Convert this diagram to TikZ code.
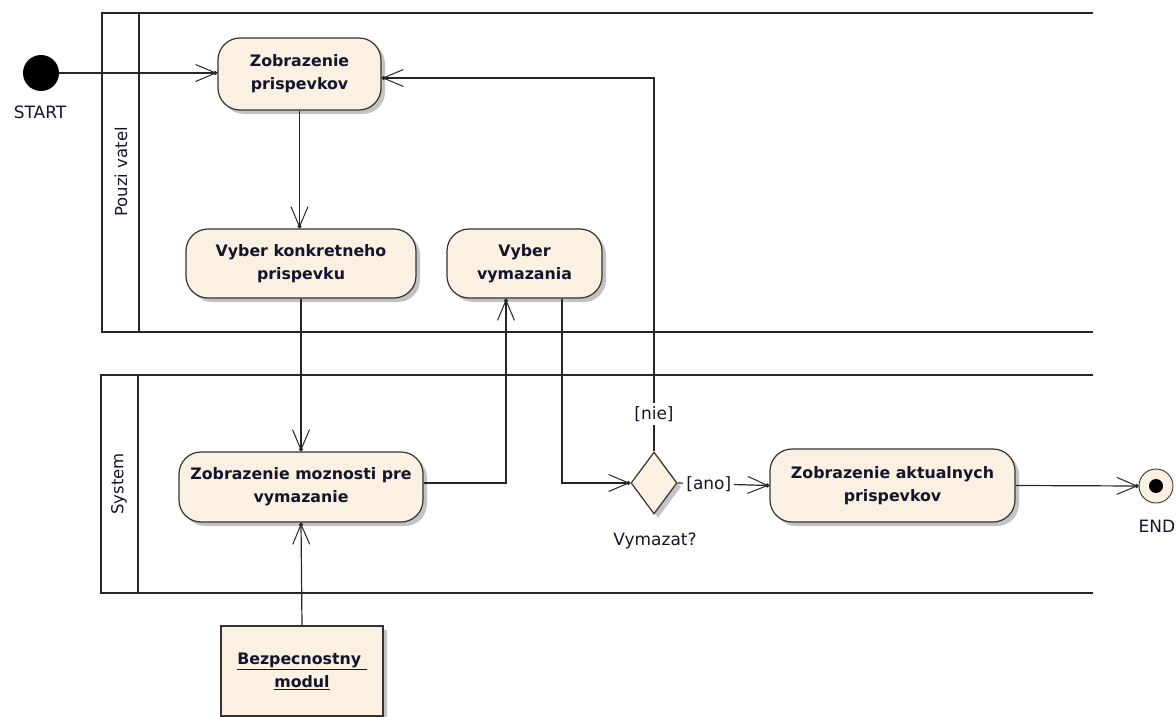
\documentclass[tikz,border=0pt]{standalone}
\usepackage{fontspec}
\setmainfont{DejaVu Sans}
\usetikzlibrary{arrows.meta,shapes.geometric,shadows,calc}
\definecolor{actfill}{RGB}{251,241,226}
\definecolor{ink}{RGB}{20,20,45}
\definecolor{shade}{RGB}{195,195,195}

\begin{document}
\begin{tikzpicture}[x=1pt,y=-1pt,
  lane/.style={line width=1.8pt, draw=black!85},
  lanetitle/.style={rotate=90, font=\fontsize{16.5}{20}\selectfont, text=ink},
  shadowed/.style={drop shadow={shadow xshift=4pt, shadow yshift=-4pt, fill=shade, opacity=1}},
  action/.style={draw=black!80, line width=1.2pt, fill=actfill, rounded corners=22pt,
    align=center, inner sep=0pt, text=ink, shadowed,
    font=\fontsize{15.8}{23}\selectfont\bfseries},
  objbox/.style={draw=black!80, line width=1.2pt, fill=actfill, align=center,
    inner sep=0pt, text=ink, shadowed, font=\fontsize{15.8}{23}\selectfont\bfseries},
  decision/.style={diamond, draw=black!80, line width=1.2pt, fill=actfill,
    inner sep=0pt, shadowed},
  txt/.style={font=\fontsize{17}{20}\selectfont, text=ink},
  guard/.style={txt, fill=white, inner sep=3pt},
  flow/.style={line width=1.2pt, draw=black!85,
    -{Straight Barb[length=20pt,width=17pt,line width=1pt,sep=-3.5pt]Circle[length=4pt]}}
]
\useasboundingbox (0,0) rectangle (1176,717);

% swimlanes
\draw[lane] (1093,13) -- (102,13) -- (102,332) -- (1093,332);
\draw[lane] (139,13) -- (139,332);
\node[lanetitle] (lane1) at (121,172) {Pouzi vatel};
\draw[lane] (1093,375) -- (101,375) -- (101,593) -- (1093,593);
\draw[lane] (138,375) -- (138,593);
\node[lanetitle] (lane2) at (119,484) {System};

% initial and final nodes
\node[circle, fill=black, minimum size=36pt, inner sep=0pt] (start) at (41,73) {};
\node[txt] (startlbl) at (40,112) {START};
\node[circle, draw=black!80, line width=0.9pt, fill=actfill, minimum size=34pt, inner sep=0pt,
  path picture={\fill[black] (path picture bounding box.center) circle (7pt);}] (end) at (1156,486) {};
\node[txt] (endlbl) at (1157,526) {END};

% actions
\node[action, minimum width=163pt, minimum height=72pt] (zp) at (299.5,74) {Zobrazenie\\prispevkov};
\node[action, minimum width=230pt, minimum height=69pt] (vk) at (301,263.5) {Vyber konkretneho\\prispevku};
\node[action, minimum width=155pt, minimum height=69pt] (vv) at (524.5,263.5) {Vyber\\vymazania};
\node[action, minimum width=244pt, minimum height=70pt] (zm) at (301,487) {Zobrazenie moznosti pre\\vymazanie};
\node[action, minimum width=245pt, minimum height=73pt] (za) at (892.5,485.5) {Zobrazenie aktualnych\\prispevkov};
\node[objbox, minimum width=162pt, minimum height=90pt] (bm) at (302,671)
  {\underline{Bezpecnostny\ }\\\underline{modul}};

% decision
\node[decision, minimum width=46pt, minimum height=62pt] (dec) at (654,483) {};
\node[txt] (declbl) at (655,541) {Vymazat?};

% helper points on node borders
\coordinate (zmout) at ($(zm.east)+(0,-4)$);
\coordinate (vvin) at ($(vv.south)+(-18.5,0)$);
\coordinate (vvout) at ($(vv.south)+(37.5,0)$);
\coordinate (zpin) at ($(zp.east)+(0,4)$);

% control flow
\draw[flow] (start) -- (zp.west |- start);
\draw[flow] (zp.south) -- (zp.south |- vk.north);
\draw[flow] (vk.south) -- (zm.north);
\draw[flow] (bm.north) -- (zm.south);
\draw[flow] (zmout) -| (vvin);
\draw[flow] (vvout) |- (dec.west);
\draw[flow] (dec.north) -- node[guard, pos=0.1] (nie) {[nie]} (dec.north |- zpin) -- (zpin);
\draw[flow] (dec.east) -- node[guard, pos=0.34] (ano) {[ano]} (za.west);
\draw[flow] (za.east) -- (end.west);
\end{tikzpicture}
\end{document}
